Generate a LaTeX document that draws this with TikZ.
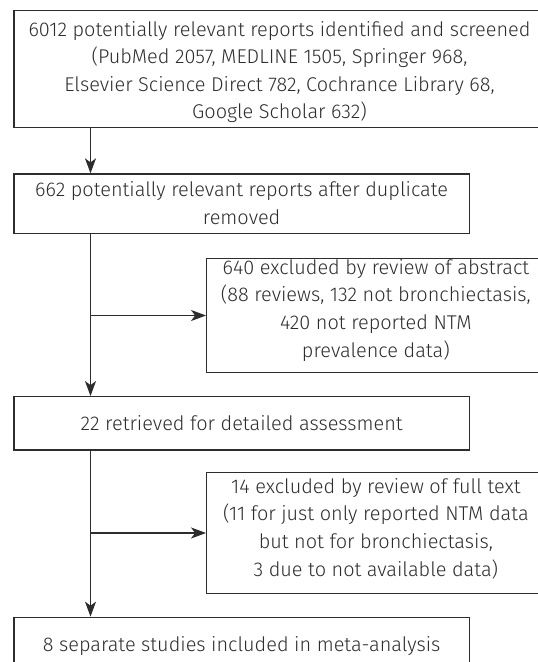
\documentclass[tikz,border=0pt]{standalone}
\usepackage{fontspec}
\setmainfont{Fira Sans Light}
\usetikzlibrary{arrows.meta}
\definecolor{ink}{RGB}{45,45,45}
\newcommand\hst[1]{\rule{0pt}{#1pt}}
\newcommand\dst[1]{\rule[-#1pt]{0pt}{#1pt}}
\tikzset{
  box/.style={draw=ink, line width=1.3pt, rectangle, inner sep=0pt, align=center,
    text=ink, font=\fontsize{19.9}{27.6}\selectfont},
  link/.style={draw=ink, line width=1.3pt},
  arr/.style={link, -{Stealth[length=15pt,width=11pt,inset=4pt]}}
}
\begin{document}
\begin{tikzpicture}[x=1pt,y=-1pt]
\useasboundingbox (0,0) rectangle (538,662);
\clip (0,0) rectangle (538,662);
\node[box, minimum width=531pt, minimum height=116.6pt] (b1) at (279.5,69)
  {\hst{23}6012 potentially relevant reports identified and screened\\
   (PubMed 2057, MEDLINE 1505, Springer 968,\\
   Elsevier Science Direct 782, Cochrance Library 68,\\
   Google Scholar 632)\dst{6.2}};
\node[box, minimum width=455.3pt, minimum height=59.5pt] (b2) at (241.65,203.75)
  {\hst{16}662 potentially relevant reports after duplicate\\ removed\dst{2.5}};
\node[box, minimum width=338.3pt, minimum height=114.4pt] (b3) at (375.85,315.5)
  {\hst{16}640 excluded by review of abstract\\
   (88 reviews, 132 not bronchiectasis,\\
   420 not reported NTM\\
   prevalence data)\dst{15.6}};
\node[box, minimum width=455.3pt, minimum height=53.3pt] (b4) at (241.65,423.35)
  {\hst{16}22 retrieved for detailed assessment\dst{2.7}};
\node[box, minimum width=338.3pt, minimum height=120.6pt] (b5) at (375.85,533)
  {\hst{16}14 excluded by review of full text\\
   (11 for just only reported NTM data\\
   but not for bronchiectasis,\\
   3 due to not available data)\dst{12.6}};
\node[box, minimum width=455.3pt, minimum height=53.3pt] (b6) at (241.65,643.95)
  {\hst{21}8 separate studies included in meta-analysis\dst{6}};
\coordinate (sx) at (90.5,0);
\draw[arr] (b1.south -| sx) -- (b2.north -| sx);
\draw[arr] (b2.south -| sx) -- (b4.north -| sx);
\draw[arr] (b3.west -| sx) -- (b3.west);
\draw[arr] (b4.south -| sx) -- (b6.north -| sx);
\draw[arr] (b5.west -| sx) -- (b5.west);
\end{tikzpicture}
\end{document}
